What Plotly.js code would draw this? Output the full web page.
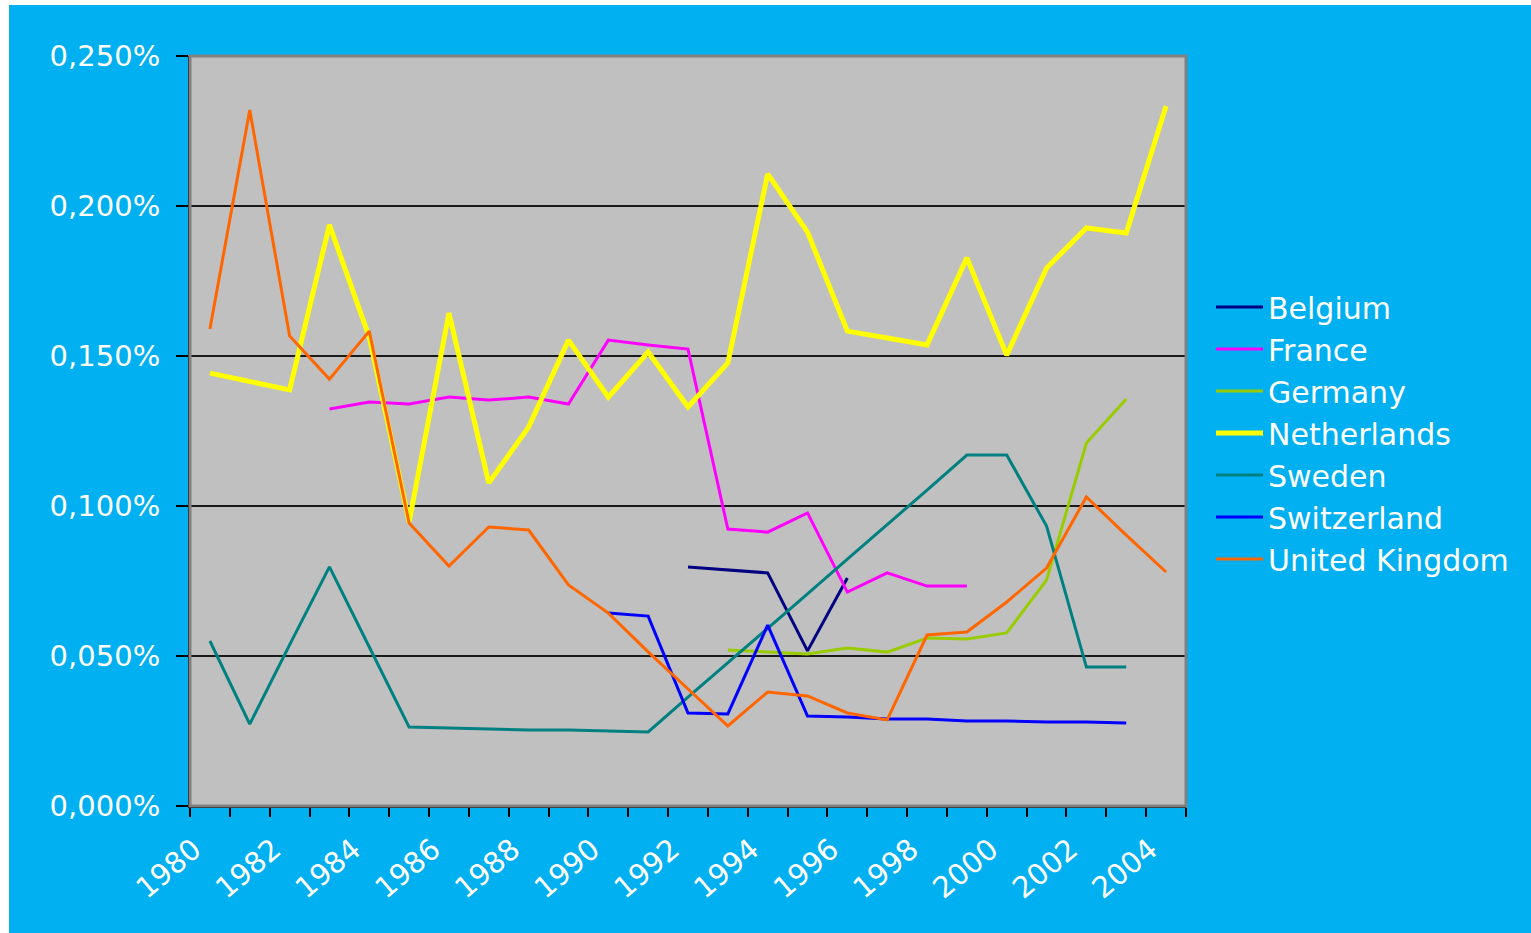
<!DOCTYPE html>
<html>
<head>
<meta charset="utf-8">
<script src="https://cdn.plot.ly/plotly-3.0.1.min.js"></script>
<style>
  html, body { margin: 0; padding: 0; background: #ffffff; width: 1531px; height: 933px; overflow: hidden; }
  #chart { position: absolute; left: 9px; top: 5px; width: 1522px; height: 928px; }
</style>
</head>
<body>
<div id="chart"></div>
<script>
// Years (categories)
const years = [1980,1981,1982,1983,1984,1985,1986,1987,1988,1989,1990,1991,1992,1993,1994,1995,1996,1997,1998,1999,2000,2001,2002,2003,2004];
const tickYears = [1980,1982,1984,1986,1988,1990,1992,1994,1996,1998,2000,2002,2004];
const tickLabels = ["1980","1982","1984","1986","1988","1990","1992","1994","1996","1998","2000","2002","2004"];

// Series values (fraction, displayed as %)
const belgium = [null,null,null,null,null,null,null,null,null,null,null,null,0.000797,0.000787,0.000777,0.000517,0.000760,null,null,null,null,null,null,null,null];
const france = [null,null,null,0.001323,0.001347,0.001340,0.001363,0.001353,0.001363,0.001340,0.001553,0.001537,0.001523,0.000923,0.000913,0.000977,0.000713,0.000777,0.000733,0.000733,null,null,null,null,null];
const germany = [null,null,null,null,null,null,null,null,null,null,null,null,null,0.000520,0.000513,0.000507,0.000527,0.000513,0.000560,0.000557,0.000577,0.000753,0.001210,0.001357,null];
const netherlands = [0.001443,0.001417,0.001387,0.001937,0.001563,0.000947,0.001643,0.001077,0.001263,0.001553,0.001363,0.001513,0.001330,0.001477,0.002107,0.001913,0.001583,0.001560,0.001537,0.001827,0.001503,0.001793,0.001927,0.001910,0.002333];
const sweden = [0.000550,0.000273,0.000537,0.000797,0.000530,0.000263,0.000260,0.000257,0.000253,0.000253,0.000250,0.000247,0.000363,0.000477,0.000593,0.000707,0.000823,0.000937,0.001053,0.001170,0.001170,0.000933,0.000463,0.000463,null];
const switzerland = [null,null,null,null,null,null,null,null,null,null,0.000643,0.000633,0.000310,0.000307,0.000603,0.000300,0.000297,0.000290,0.000290,0.000283,0.000283,0.000280,0.000280,0.000277,null];
const unitedKingdom = [0.001590,0.002320,0.001567,0.001423,0.001583,0.000943,0.000800,0.000930,0.000920,0.000737,0.000643,0.000514,0.000390,0.000267,0.000380,0.000367,0.000310,0.000287,0.000570,0.000580,0.000680,0.000793,0.001030,0.000903,0.000780];

const seriesNames = ["Belgium","France","Germany","Netherlands","Sweden","Switzerland","United Kingdom"];
const seriesValues = [belgium, france, germany, netherlands, sweden, switzerland, unitedKingdom];
const seriesColors = ["#000080","#FF00FF","#99CC00","#FFFF00","#008080","#0000FF","#FF6600"];
const seriesWidths = [3,3,3,5,3,3,3];

const traces = seriesNames.map((name, i) => ({
  type: 'scatter',
  mode: 'lines',
  name: name,
  x: years,
  y: seriesValues[i],
  connectgaps: false,
  line: { color: seriesColors[i], width: seriesWidths[i] },
  hoverinfo: 'skip'
}));

const font = "DejaVu Sans, Liberation Sans, Arial, sans-serif";

const layout = {
  width: 1522,
  height: 928,
  margin: { l: 181, r: 345, t: 51, b: 127 },
  paper_bgcolor: '#00B0F0',
  plot_bgcolor: '#C0C0C0',
  separators: ',.',
  showlegend: true,
  xaxis: {
    range: [1979.5, 2004.5],
    tickmode: 'array',
    tickvals: tickYears,
    ticktext: tickLabels,
    tickangle: -40,
    ticks: 'outside',
    ticklen: 9,
    tickcolor: 'rgba(0,0,0,0)',
    tickfont: { family: font, size: 29, color: '#ffffff' },
    ticklabelshift: -16,
    ticklabelstandoff: 4,
    minor: { tick0: 1979.5, dtick: 1, ticks: 'outside', ticklen: 9, tickwidth: 2, tickcolor: '#000000', showgrid: false },
    showgrid: false,
    zeroline: false,
    showline: true,
    linecolor: '#000000',
    linewidth: 2,
    fixedrange: true
  },
  yaxis: {
    range: [0, 0.0025],
    tickmode: 'linear',
    tick0: 0,
    dtick: 0.0005,
    tickformat: '.3%',
    ticks: 'outside',
    ticklen: 12,
    tickwidth: 2,
    tickcolor: '#000000',
    tickfont: { family: font, size: 29, color: '#ffffff' },
    ticklabelstandoff: 10,
    showgrid: true,
    gridcolor: '#1a1a1a',
    gridwidth: 2,
    zeroline: false,
    showline: true,
    linecolor: '#000000',
    linewidth: 2,
    fixedrange: true
  },
  shapes: [{
    type: 'rect', xref: 'paper', yref: 'paper', x0: 0, x1: 1, y0: 0, y1: 1,
    line: { color: '#808080', width: 3 }, layer: 'above'
  }],
  legend: {
    x: 1.0251,
    xanchor: 'left',
    y: 0.700,
    yanchor: 'top',
    bgcolor: 'rgba(0,0,0,0)',
    borderwidth: 0,
    font: { family: font, size: 30, color: '#ffffff' },
    itemwidth: 47,
    traceorder: 'normal'
  }
};

Plotly.newPlot('chart', traces, layout, { staticPlot: true, displayModeBar: false });
</script>
</body>
</html>
